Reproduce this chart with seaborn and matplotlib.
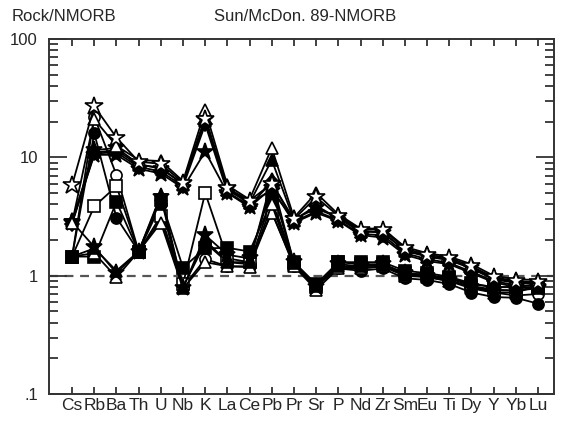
import numpy as np
import pandas as pd
import matplotlib
matplotlib.use("Agg")
import matplotlib.pyplot as plt
import seaborn as sns
from matplotlib.ticker import FixedLocator, FixedFormatter, LogLocator, NullFormatter

elements = ["Cs", "Rb", "Ba", "Th", "U", "Nb", "K", "La", "Ce", "Pb", "Pr", "Sr",
            "P", "Nd", "Zr", "Sm", "Eu", "Ti", "Dy", "Y", "Yb", "Lu"]

h1_open_star = [5.8, 27, 14.7, 9.2, 8.8, 6.1, 21, 5.5, 4.3, 6.0, 3.0, 4.6, 3.2, 2.45, 2.45, 1.7, 1.5, 1.42, 1.2, 0.97, 0.9, 0.88]
h2_open_tri = [2.8, 21, 12.5, 9.5, 9.3, 6.3, 25, 5.8, 4.4, 12.0, 3.1, 5.0, 3.3, 2.5, 2.5, 1.75, 1.55, 1.45, 1.25, 1.0, 0.93, 0.92]
h3_star = [2.8, 10.5, 10.5, 8.0, 7.3, 5.5, 11.2, 5.0, 3.8, 5.5, 2.8, 3.4, 2.9, 2.2, 2.1, 1.5, 1.33, 1.25, 1.05, 0.88, 0.8, 0.78]
h4_tri = [2.9, 11, 11.5, 8.6, 8.2, 5.9, 22, 5.3, 4.1, 9.5, 2.95, 3.9, 3.05, 2.35, 2.35, 1.62, 1.45, 1.35, 1.15, 0.93, 0.87, 0.86]
h5_diamond = [2.75, 10.8, 11, 8.3, 7.6, 5.7, 19, 5.1, 3.9, 6.2, 2.85, 3.5, 2.95, 2.25, 2.2, 1.55, 1.38, 1.28, 1.08, 0.9, 0.83, 0.82]
h6_star = [2.85, 11.5, 12, 8.8, 8.0, 6.0, 20.5, 5.4, 4.2, 5.2, 3.0, 3.7, 3.1, 2.4, 2.3, 1.65, 1.47, 1.38, 1.17, 0.95, 0.88, 0.86]

l1_open_circle = [1.45, 22, 7.1, 1.6, 3.0, 0.8, 1.38, 1.2, 1.2, 3.5, 1.2, 0.8, 1.2, 1.15, 1.2, 1.0, 0.97, 0.9, 0.8, 0.72, 0.68, 0.7]
l2_circle = [1.45, 16, 3.1, 1.6, 4.0, 0.8, 1.9, 1.3, 1.25, 4.5, 1.25, 0.82, 1.15, 1.1, 1.15, 0.95, 0.92, 0.85, 0.72, 0.66, 0.65, 0.58]
l3_open_square = [1.45, 3.85, 5.7, 1.6, 3.2, 0.85, 5.0, 1.4, 1.3, 3.4, 1.25, 0.8, 1.3, 1.25, 1.25, 1.05, 1.02, 0.95, 0.82, 0.76, 0.75, 0.78]
l4_square = [1.45, 1.45, 4.2, 1.6, 4.4, 1.17, 1.7, 1.72, 1.6, 4.3, 1.3, 0.85, 1.3, 1.3, 1.3, 1.1, 1.05, 0.98, 0.86, 0.8, 0.8, 0.8]
l5_open_tri = [1.45, 1.55, 0.97, 1.6, 2.8, 0.78, 1.3, 1.2, 1.18, 4.0, 1.2, 0.76, 1.15, 1.15, 1.2, 1.0, 1.0, 0.95, 0.85, 0.8, 0.8, 0.85]
l6_star = [2.85, 1.75, 1.05, 1.6, 4.6, 0.78, 2.2, 1.5, 1.4, 5.5, 1.3, 0.8, 1.25, 1.2, 1.25, 1.05, 1.0, 0.92, 0.8, 0.75, 0.75, 0.8]
l7_tri = [1.45, 1.7, 1.1, 1.6, 4.8, 0.8, 2.0, 1.3, 1.3, 6.5, 1.28, 0.82, 1.2, 1.2, 1.22, 1.02, 0.98, 0.9, 0.78, 0.72, 0.72, 0.82]

samples = [
    (l1_open_circle, "o", "white", 8),
    (l2_circle, "o", "black", 8),
    (l3_open_square, "s", "white", 8),
    (l4_square, "s", "black", 8),
    (l5_open_tri, "^", "white", 9),
    (l6_star, "*", "black", 12.5),
    (l7_tri, "^", "black", 9),
    (h3_star, "*", "black", 12.5),
    (h5_diamond, "D", "black", 7),
    (h4_tri, "^", "black", 9),
    (h6_star, "*", "black", 12.5),
    (h2_open_tri, "^", "white", 9),
    (h1_open_star, "*", "white", 13.5),
]

sns.set_style("white")
plt.rcParams["font.family"] = ["Liberation Sans", "DejaVu Sans"]

fig = plt.figure(figsize=(5.62, 4.21), dpi=100)
ax = fig.add_axes([49 / 562, 1 - 394 / 421, (554 - 49) / 562, (394 - 39) / 421])

xs = np.arange(len(elements))
for vals, mk, fc, ms in samples:
    df = pd.DataFrame({"x": xs, "y": vals})
    sns.lineplot(data=df, x="x", y="y", ax=ax, color="black", linewidth=1.3,
                 marker=mk, markersize=ms, markerfacecolor=fc,
                 markeredgecolor="black", markeredgewidth=1.2, sort=False)

ax.axhline(1, color="#555555", linestyle=(0, (4, 3)), linewidth=1.6, zorder=0)

ax.set_yscale("log")
ax.set_ylim(0.1, 100)
ax.set_xlim(-1.04, 21.72)
ax.set_xlabel("")
ax.set_ylabel("")

ax.xaxis.set_major_locator(FixedLocator(xs))
ax.set_xticklabels(elements)
ax.yaxis.set_major_locator(FixedLocator([0.1, 1, 10, 100]))
ax.yaxis.set_major_formatter(FixedFormatter([".1", "1", "10", "100"]))
ax.yaxis.set_minor_locator(LogLocator(base=10, subs=np.arange(2, 10)))
ax.yaxis.set_minor_formatter(NullFormatter())

ax.tick_params(axis="x", which="major", direction="in", top=True, bottom=True,
               length=5, width=1.3, pad=3, color="#333333", labelsize=12.5)
ax.tick_params(axis="y", which="major", direction="in", left=True, right=True,
               length=13, width=1.3, pad=8, color="#333333", labelsize=12)
ax.tick_params(axis="y", which="minor", direction="in", left=True, right=True,
               length=6.5, width=1.3, color="#333333")

for s in ax.spines.values():
    s.set_color("#333333")
    s.set_linewidth(1.4)

fig.text(12 / 562, 1 - 21 / 421, "Rock/NMORB", fontsize=12, ha="left", va="baseline")
fig.text(305 / 562, 1 - 21 / 421, "Sun/McDon. 89-NMORB", fontsize=12, ha="center", va="baseline")

fig.savefig("out.png", dpi=100)
